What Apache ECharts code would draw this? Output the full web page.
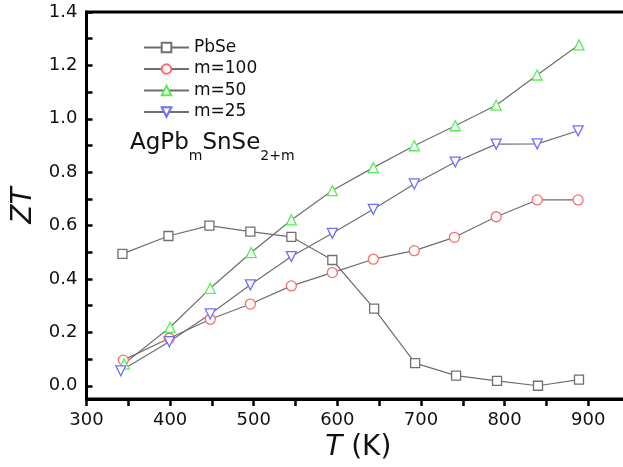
<!DOCTYPE html>
<html>
<head>
<meta charset="utf-8">
<script src="https://cdn.jsdelivr.net/npm/echarts@6/dist/echarts.min.js"></script>
<style>
html,body{margin:0;padding:0;background:#fff;overflow:hidden;width:623px;height:467px;}
#c{width:632px;height:467px;}
</style>
</head>
<body>
<div id="c"></div>
<script>
// Data
const tPbSe = [343, 398, 447, 496, 545, 594, 644, 693, 742, 791, 840, 889];
const zPbSe = [0.494, 0.561, 0.600, 0.577, 0.558, 0.471, 0.289, 0.085, 0.038, 0.018, 0.000, 0.023];
const tM100 = [344, 399, 448, 496, 545, 594, 643, 692, 740, 790, 839, 888];
const zM100 = [0.096, 0.178, 0.249, 0.306, 0.374, 0.424, 0.474, 0.506, 0.556, 0.633, 0.696, 0.696];
const tM50 = [345, 400, 448, 497, 545, 594, 643, 692, 741, 790, 839, 889];
const zM50 = [0.082, 0.219, 0.365, 0.499, 0.621, 0.731, 0.817, 0.899, 0.974, 1.051, 1.164, 1.277];
const tM25 = [341, 399, 448, 496, 545, 594, 643, 692, 741, 790, 839, 888];
const zM25 = [0.056, 0.165, 0.269, 0.378, 0.484, 0.571, 0.661, 0.756, 0.838, 0.905, 0.906, 0.955];
const seriesNames = ['PbSe', 'm=100', 'm=50', 'm=25'];
const xLabels = [300, 400, 500, 600, 700, 800, 900];
const xTicks = [300, 350, 400, 450, 500, 550, 600, 650, 700, 750, 800, 850, 900];
const yLabels = [0, 0.2, 0.4, 0.6, 0.8, 1.0, 1.2, 1.4];
const yTicks = [0, 0.1, 0.2, 0.3, 0.4, 0.5, 0.6, 0.7, 0.8, 0.9, 1.0, 1.1, 1.2, 1.3, 1.4];

const FONT = 'DejaVu Sans';
const zip = (a, b) => a.map((v, i) => [v, b[i]]);

const lineColor = '#6e6e6e';
function mk(name, t, z, symbol, color, rotate) {
  return {
    name: name, type: 'line', data: zip(t, z),
    symbol: symbol, symbolSize: symbol === 'rect' ? 9 : 10,
    symbolRotate: rotate || 0,
    showAllSymbol: true,
    lineStyle: { color: lineColor, width: 1.2 },
    itemStyle: { color: '#fff', borderColor: color, borderWidth: 1.3 },
    emphasis: { disabled: true },
    animation: false
  };
}

const chart = echarts.init(document.getElementById('c'), null, { renderer: 'canvas' });
chart.setOption({
  backgroundColor: '#fff',
  animation: false,
  textStyle: { fontFamily: FONT },
  grid: { left: 86.5, right: 2, top: 12, bottom: 67, show: true, borderColor: '#000', borderWidth: 3, backgroundColor: 'transparent' },
  legend: {
    orient: 'vertical', left: 138, top: 34,
    itemWidth: 45, itemHeight: 12, itemGap: 4.5,
    textStyle: { fontFamily: FONT, fontSize: 17, color: '#111' },
    data: seriesNames
  },
  xAxis: {
    type: 'value', min: 300, max: 950,
    name: '{i|T} (K)', nameLocation: 'middle', nameGap: 32,
    nameTextStyle: { rich: { i: { fontStyle: 'italic', fontSize: 28, fontFamily: FONT, color: '#111' } }, fontSize: 28, fontFamily: FONT, color: '#111' },
    axisLine: { show: true, onZero: false, lineStyle: { color: '#000', width: 3 } },
    axisTick: { show: true, inside: false, length: 7, customValues: xTicks, lineStyle: { color: '#000', width: 2.5 } },
    axisLabel: { customValues: xLabels, margin: 12, fontSize: 18, fontFamily: FONT, color: '#111' },
    splitLine: { show: false }
  },
  yAxis: {
    type: 'value', min: -0.05, max: 1.4,
    name: 'ZT', nameLocation: 'middle', nameGap: 43, nameRotate: 90,
    nameTextStyle: { fontStyle: 'italic', fontSize: 28, fontFamily: FONT, color: '#111' },
    axisLine: { show: true, onZero: false, lineStyle: { color: '#000', width: 3 } },
    axisTick: { show: true, inside: true, length: 6, customValues: yTicks, lineStyle: { color: '#000', width: 2.5 } },
    axisLabel: { customValues: yLabels, margin: 9, fontSize: 18, fontFamily: FONT, color: '#111', formatter: v => v.toFixed(1) },
    splitLine: { show: false }
  },
  graphic: [{
    type: 'text', left: 130, top: 132, z: 100,
    style: {
      text: '{a|AgPb}{s|m}{a|SnSe}{s|2+m}',
      rich: {
        a: { fontSize: 23, fontFamily: FONT, lineHeight: 23, verticalAlign: 'top', fill: '#111', color: '#111' },
        s: { fontSize: 14, fontFamily: FONT, lineHeight: 14, verticalAlign: 'top', padding: [17, 0, 0, 0], fill: '#111', color: '#111' }
      }
    }
  }],
  series: [
    mk(seriesNames[0], tPbSe, zPbSe, 'rect', '#707070'),
    mk(seriesNames[1], tM100, zM100, 'circle', '#ff6b6b'),
    mk(seriesNames[2], tM50, zM50, 'triangle', '#55ee55'),
    mk(seriesNames[3], tM25, zM25, 'triangle', '#6e6eff', 180)
  ]
});
</script>
</body>
</html>
